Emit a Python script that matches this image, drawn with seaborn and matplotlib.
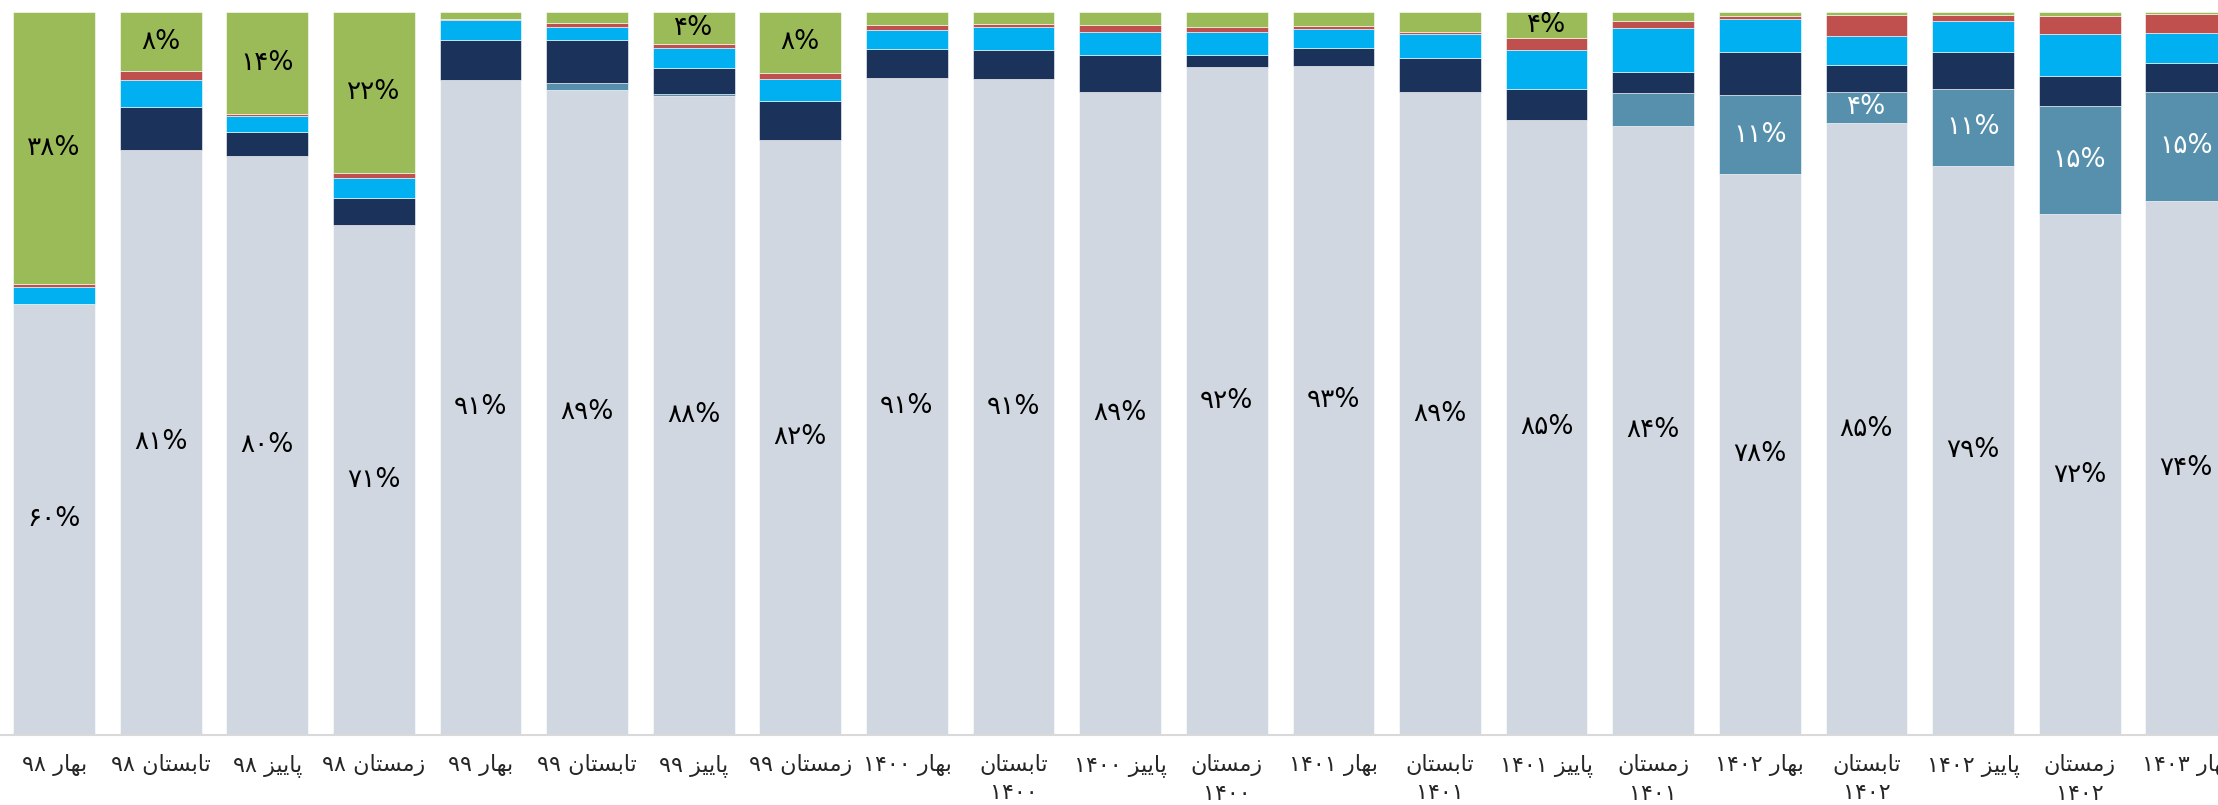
import matplotlib
matplotlib.use("Agg")
import matplotlib.pyplot as plt
import numpy as np
import pandas as pd
import seaborn as sns

# Categories (season + year), left to right
seasons = ["بهار ۹۸", "تابستان ۹۸", "پاییز ۹۸", "زمستان ۹۸",
           "بهار ۹۹", "تابستان ۹۹", "پاییز ۹۹", "زمستان ۹۹",
           "بهار ۱۴۰۰", "تابستان ۱۴۰۰", "پاییز ۱۴۰۰", "زمستان ۱۴۰۰",
           "بهار ۱۴۰۱", "تابستان ۱۴۰۱", "پاییز ۱۴۰۱", "زمستان ۱۴۰۱",
           "بهار ۱۴۰۲", "تابستان ۱۴۰۲", "پاییز ۱۴۰۲", "زمستان ۱۴۰۲",
           "بهار ۱۴۰۳"]

# shares (%) per series, stacked bottom -> top
gray_share = [59.6, 80.9, 80.1, 70.6, 90.6, 89.2, 88.4, 82.3, 90.9, 90.7, 89.0,
              92.4, 92.6, 88.9, 85.1, 84.2, 77.6, 84.6, 78.7, 72.0, 73.9]
steel_share = [0, 0, 0, 0, 0, 1.0, 0.3, 0, 0, 0, 0,
               0, 0, 0, 0, 4.6, 10.9, 4.4, 10.7, 15.0, 15.0]
navy_share = [0, 6.0, 3.3, 3.7, 5.5, 5.9, 3.5, 5.4, 4.0, 4.1, 5.0,
              1.6, 2.4, 4.7, 4.2, 2.9, 6.0, 3.7, 5.1, 4.2, 4.0]
cyan_share = [2.3, 3.7, 2.2, 2.7, 2.8, 1.8, 2.8, 3.1, 2.6, 3.1, 3.3,
              3.3, 2.6, 3.4, 5.4, 6.1, 4.6, 4.0, 4.3, 5.7, 4.2]
red_share = [0.5, 1.2, 0.3, 0.8, 0.1, 0.6, 0.6, 0.8, 0.7, 0.4, 0.9,
             0.6, 0.5, 0.2, 1.7, 1.0, 0.4, 2.9, 0.8, 2.6, 2.6]
green_share = [37.6, 8.2, 14.1, 22.2, 1.0, 1.5, 4.4, 8.4, 1.8, 1.7, 1.8,
               2.1, 1.9, 2.8, 3.6, 1.2, 0.5, 0.4, 0.4, 0.5, 0.3]

# which bars carry a data label, per series
gray_labeled = list(range(21))
steel_labeled = [16, 17, 18, 19, 20]
green_labeled = [0, 1, 2, 3, 6, 7, 14]

series = [
    ("gray", gray_share, "#D0D7E1", gray_labeled, "black"),
    ("steel", steel_share, "#5690AD", steel_labeled, "white"),
    ("navy", navy_share, "#1B325A", [], "white"),
    ("cyan", cyan_share, "#00B0F0", [], "black"),
    ("red", red_share, "#C0504D", [], "black"),
    ("green", green_share, "#9BBB59", green_labeled, "black"),
]

# --- minimal Persian shaping (matplotlib has no bidi / joining support) ---
FORMS = {
    "ا": ("\uFE8D", "\uFE8E", None, None),
    "ب": ("\uFE8F", "\uFE90", "\uFE91", "\uFE92"),
    "پ": ("\uFB56", "\uFB57", "\uFB58", "\uFB59"),
    "ت": ("\uFE95", "\uFE96", "\uFE97", "\uFE98"),
    "ر": ("\uFEAD", "\uFEAE", None, None),
    "ز": ("\uFEAF", "\uFEB0", None, None),
    "س": ("\uFEB1", "\uFEB2", "\uFEB3", "\uFEB4"),
    "م": ("\uFEE1", "\uFEE2", "\uFEE3", "\uFEE4"),
    "ن": ("\uFEE5", "\uFEE6", "\uFEE7", "\uFEE8"),
    "ه": ("\uFEE9", "\uFEEA", "\uFEEB", "\uFEEC"),
    "ی": ("\uFBFC", "\uFBFD", "\uFBFE", "\uFBFF"),
}


def shape_word(w):
    out = []
    for i, ch in enumerate(w):
        f = FORMS.get(ch)
        if f is None:
            out.append(ch)
            continue
        prev = w[i - 1] if i > 0 else None
        nxt = w[i + 1] if i + 1 < len(w) else None
        join_prev = prev in FORMS and FORMS[prev][2] is not None
        join_next = nxt in FORMS and f[2] is not None
        if join_prev and join_next:
            out.append(f[3])
        elif join_prev:
            out.append(f[1])
        elif join_next:
            out.append(f[2])
        else:
            out.append(f[0])
    return "".join(reversed(out))


def rtl(line):
    parts = line.split(" ")
    return " ".join(p if p.isdigit() else shape_word(p) for p in reversed(parts))


def fa_num(n):
    return str(n).translate(str.maketrans("0123456789", "۰۱۲۳۴۵۶۷۸۹"))


# long labels wrap onto two lines in the original
wrapped = {"تابستان ۱۴۰۰", "زمستان ۱۴۰۰", "تابستان ۱۴۰۱", "زمستان ۱۴۰۱",
           "تابستان ۱۴۰۲", "زمستان ۱۴۰۲"}
tick_text = []
for s in seasons:
    if s in wrapped:
        w, y = s.split(" ")
        tick_text.append(rtl(w) + "\n" + y)
    else:
        tick_text.append(rtl(s))

sns.set_theme(style="white")
plt.rcParams["font.family"] = ["DejaVu Sans"]

fig = plt.figure(figsize=(22.18, 8.05), dpi=100)
ax = fig.add_axes([0, 0.0873, 1, 0.8977])

df = pd.DataFrame({"season": seasons})
bottom = np.zeros(len(seasons))
for name, vals, col, labeled, tcol in series:
    vals = np.array(vals, dtype=float)
    df[name] = vals
    sns.barplot(data=df, x="season", y=name, color=col, saturation=1,
                width=0.767, bottom=bottom, errorbar=None, ax=ax,
                edgecolor="white", linewidth=0.4)
    for i in labeled:
        ax.text(i, bottom[i] + vals[i] / 2, fa_num(int(round(vals[i]))) + "%",
                ha="center", va="center", fontsize=19, color=tcol)
    bottom = bottom + vals

ax.set_ylim(0, 100)
ax.set_xlim(-0.508, 20.298)
ax.set_xlabel("")
ax.set_ylabel("")
ax.set_yticks([])
ax.set_xticks(range(len(seasons)))
ax.set_xticklabels(tick_text, fontsize=16, linespacing=1.5)
ax.tick_params(axis="x", length=0, pad=14)
for sp in ["left", "right", "top"]:
    ax.spines[sp].set_visible(False)
ax.spines["bottom"].set_color("#D9D9D9")
ax.spines["bottom"].set_linewidth(1.5)

fig.savefig("out.png", dpi=100)
